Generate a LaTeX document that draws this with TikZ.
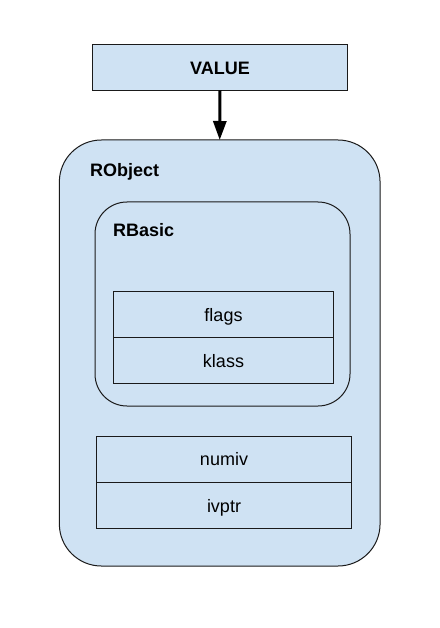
\documentclass[tikz,border=0pt]{standalone}
\usepackage{fontspec}
\setmainfont{Liberation Sans}
\usetikzlibrary{arrows.meta}
\definecolor{boxfill}{HTML}{CFE2F3}
\definecolor{boxline}{HTML}{1A1A1A}
\begin{document}
\begin{tikzpicture}[x=1pt,y=-1pt,
  base/.style={draw=boxline,fill=boxfill,line width=1pt,inner sep=0pt,outer sep=0pt,
    font=\fontsize{18}{20}\selectfont,text height=13.5pt,text depth=0pt},
  field/.style={base,minimum height=46pt},
  container/.style={draw=boxline,fill=boxfill,line width=1pt,inner sep=0pt,outer sep=0pt},
  title/.style={font=\fontsize{18}{20}\selectfont\bfseries,inner sep=0pt,anchor=base west},
  conn/.style={line width=3pt,-{Triangle[length=19pt,width=13pt]}}
]
\useasboundingbox (0,0) rectangle (439,628);
\fill[white] (0,0) rectangle (439,628);
\node[field,minimum width=255pt,font=\fontsize{18}{20}\selectfont\bfseries] (value) at (220,67.3) {VALUE};
\node[container,minimum width=320.7pt,minimum height=426pt,rounded corners=42pt] (robject) at (219.7,353) {};
\node[container,minimum width=255pt,minimum height=204pt,rounded corners=32pt] (rbasic) at (222.5,304) {};
\node[title] (robjectlabel) at (90,177) {RObject};
\node[title] (rbasiclabel) at (113,236) {RBasic};
\node[field,minimum width=220.4pt] (flags) at (223.5,314.3) {flags};
\node[field,minimum width=220.4pt] (klass) at (223.5,360.3) {klass};
\node[field,minimum width=255.4pt] (numiv) at (224,459.2) {numiv};
\node[field,minimum width=255.4pt] (ivptr) at (224,505.3) {ivptr};
\draw[conn] (value.south) -- (robject.north);
\end{tikzpicture}
\end{document}
